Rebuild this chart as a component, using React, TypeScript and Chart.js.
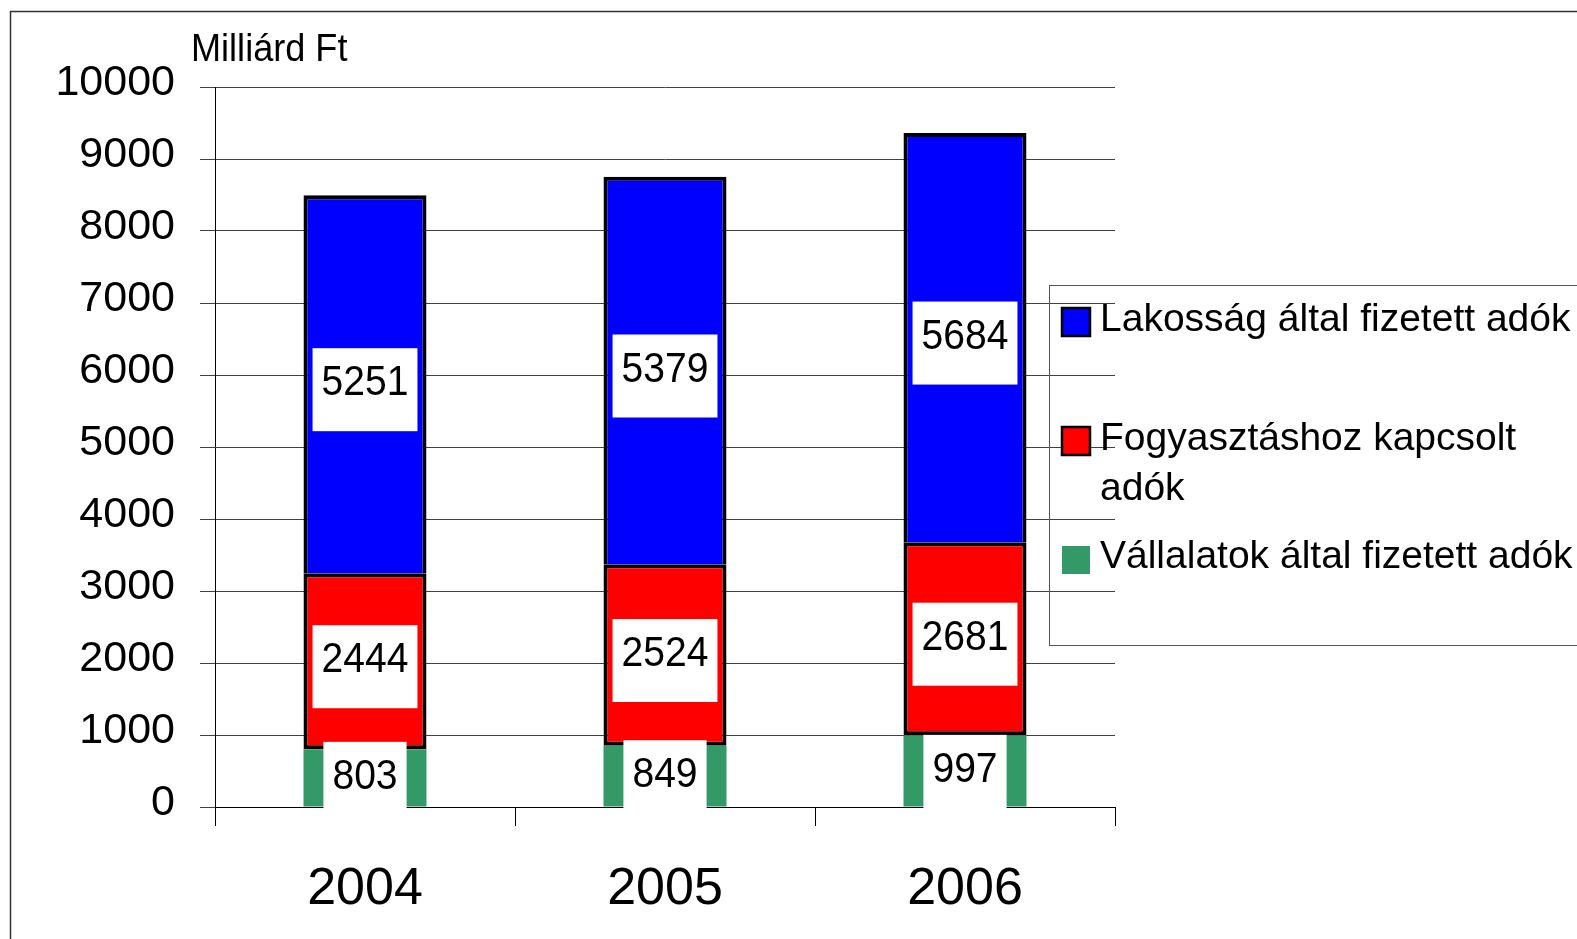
import React, { useEffect, useRef } from "react";
import { Chart, registerables } from "chart.js";

Chart.register(...registerables);

const categories = ["2004", "2005", "2006"];
const vallalatokValues = [803, 849, 997];
const fogyasztasValues = [2444, 2524, 2681];
const lakossagValues = [5251, 5379, 5684];
const seriesNames = [
  "Vállalatok által fizetett adók",
  "Fogyasztáshoz kapcsolt adók",
  "Lakosság által fizetett adók",
];
const legendLines = [
  ["Lakosság által fizetett adók"],
  ["Fogyasztáshoz kapcsolt", "adók"],
  ["Vállalatok által fizetett adók"],
];
const yAxisTitle = "Milliárd Ft";
const yMin = 0;
const yMax = 10000;
const yStep = 1000;

const GREEN = "#339966";
const RED = "#FF0000";
const BLUE = "#0000FF";
const FONT = "'Liberation Sans', Arial, sans-serif";

const W = 1577;
const H = 939;

function drawScaledText(ctx: CanvasRenderingContext2D, text: string, x: number, y: number, sx: number, align: CanvasTextAlign) {
  ctx.save();
  ctx.translate(x, y);
  ctx.scale(sx, 1);
  ctx.textAlign = align;
  ctx.textBaseline = "alphabetic";
  ctx.fillText(text, 0, 0);
  ctx.restore();
}

const framePlugin = {
  id: "frameTitle",
  beforeDraw(chart: any) {
    const ctx = chart.ctx as CanvasRenderingContext2D;
    ctx.save();
    ctx.fillStyle = "#ffffff";
    ctx.fillRect(0, 0, W, H);
    ctx.strokeStyle = "#333333";
    ctx.lineWidth = 1.5;
    ctx.beginPath();
    ctx.moveTo(10.5, H + 10);
    ctx.lineTo(10.5, 11.5);
    ctx.lineTo(W + 10, 11.5);
    ctx.stroke();
    ctx.fillStyle = "#000000";
    ctx.font = `38px ${FONT}`;
    drawScaledText(ctx, yAxisTitle, 191, 61, 0.95, "left");
    ctx.restore();
  },
};

const labelPlugin = {
  id: "segmentLabels",
  afterDatasetsDraw(chart: any) {
    const ctx = chart.ctx as CanvasRenderingContext2D;
    ctx.save();
    const sx = 0.93;
    ctx.font = `42px ${FONT}`;
    chart.data.datasets.forEach((ds: any, i: number) => {
      const meta = chart.getDatasetMeta(i);
      meta.data.forEach((bar: any, j: number) => {
        const { x, y, base } = bar.getProps(["x", "y", "base"], true);
        const mid = (y + base) / 2;
        const text = String(ds.data[j]);
        const tw = ctx.measureText(text).width * sx;
        const bw = tw + 18;
        ctx.fillStyle = "#ffffff";
        ctx.fillRect(x - bw / 2, mid - 36, bw, 83);
        ctx.fillStyle = "#000000";
        drawScaledText(ctx, text, x, mid + 11, sx, "center");
      });
    });
    ctx.restore();
  },
};

const legendPlugin = {
  id: "customLegend",
  afterDraw(chart: any) {
    const ctx = chart.ctx as CanvasRenderingContext2D;
    ctx.save();
    ctx.strokeStyle = "#555555";
    ctx.lineWidth = 1;
    ctx.strokeRect(1049.5, 285.5, 700, 360);
    const colors = [BLUE, RED, GREEN];
    const bordered = [true, true, false];
    const squareTops = [308, 427, 546];
    const baselines = [331, 450, 568];
    ctx.font = `39px ${FONT}`;
    legendLines.forEach((lines, i) => {
      ctx.fillStyle = colors[i];
      ctx.fillRect(1062, squareTops[i], 28, 28);
      if (bordered[i]) {
        ctx.strokeStyle = "#000000";
        ctx.lineWidth = 2.5;
        ctx.strokeRect(1062, squareTops[i], 28, 28);
      }
      ctx.fillStyle = "#000000";
      lines.forEach((line, k) => {
        drawScaledText(ctx, line, 1100, baselines[i] + k * 50, 1.0, "left");
      });
    });
    ctx.restore();
  },
};

export default function App() {
  const canvasRef = useRef<HTMLCanvasElement | null>(null);

  useEffect(() => {
    const canvas = canvasRef.current;
    if (!canvas) return;
    const chart = new Chart(canvas, {
      type: "bar",
      data: {
        labels: categories,
        datasets: [
          {
            label: seriesNames[0],
            data: vallalatokValues,
            backgroundColor: GREEN,
            borderWidth: 0,
          },
          {
            label: seriesNames[1],
            data: fogyasztasValues,
            backgroundColor: RED,
            borderColor: "#000000",
            borderWidth: 4,
            borderSkipped: false,
            inflateAmount: 0,
          },
          {
            label: seriesNames[2],
            data: lakossagValues,
            backgroundColor: BLUE,
            borderColor: "#000000",
            borderWidth: { top: 4, left: 4, right: 4, bottom: 0 },
            borderSkipped: false,
            inflateAmount: 0,
          },
        ],
      },
      options: {
        responsive: false,
        animation: false,
        devicePixelRatio: 1,
        categoryPercentage: 1,
        barPercentage: 0.41,
        layout: { padding: { left: 0, top: 87, right: W - 1115, bottom: 0 } },
        plugins: {
          legend: { display: false },
          title: { display: false },
          tooltip: { enabled: false },
        },
        scales: {
          x: {
            stacked: true,
            offset: true,
            grid: {
              display: true,
              offset: true,
              drawOnChartArea: false,
              drawTicks: true,
              tickLength: 19,
              color: "#000000",
              lineWidth: 1,
            },
            border: { display: true, color: "#000000", width: 1 },
            ticks: {
              color: "#000000",
              font: { family: FONT, size: 52 },
              padding: 32,
              maxRotation: 0,
            },
            afterFit: (scale: any) => {
              scale.height = H - 807;
            },
          },
          y: {
            stacked: true,
            min: yMin,
            max: yMax,
            grid: {
              color: "#404040",
              lineWidth: 1,
              drawTicks: true,
              tickLength: 15,
            },
            border: { display: true, color: "#000000", width: 1 },
            ticks: {
              stepSize: yStep,
              color: "#000000",
              font: { family: FONT, size: 43 },
              padding: 25,
              labelOffset: -4,
              callback: (v: any) => String(v),
            },
            afterFit: (scale: any) => {
              scale.width = 215;
            },
          },
        },
      },
      plugins: [framePlugin, labelPlugin, legendPlugin],
    } as any);
    return () => chart.destroy();
  }, []);

  return (
    <div style={{ position: "fixed", left: 0, top: 0, width: W, height: H, background: "#fff" }}>
      <canvas ref={canvasRef} width={W} height={H} style={{ display: "block" }} />
    </div>
  );
}
